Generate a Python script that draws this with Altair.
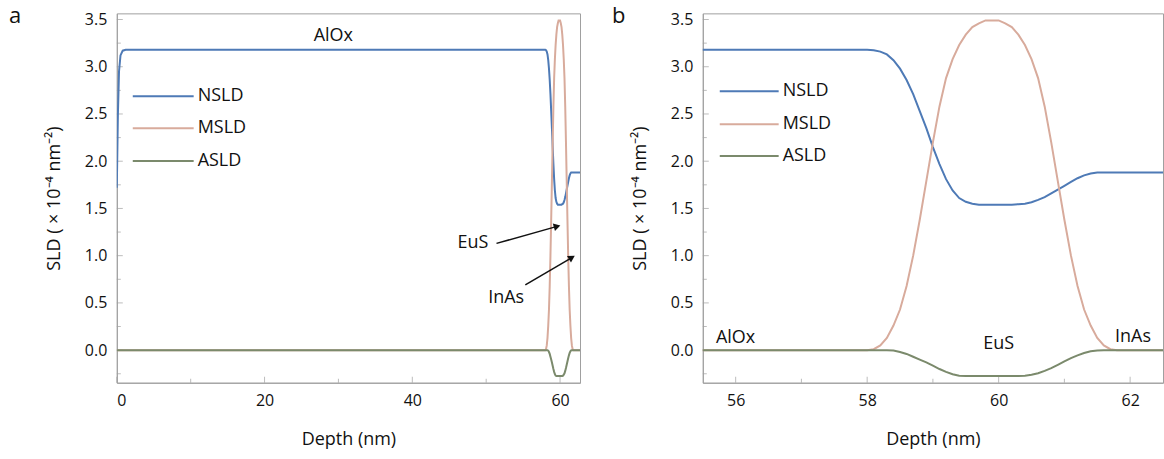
import altair as alt
import pandas as pd

# ---------------- data ----------------
depth = [0.0, 0.15, 0.3, 0.5, 0.8, 1.2, 57.5,
         58.0, 58.1, 58.2, 58.3, 58.4, 58.5, 58.6, 58.7, 58.8, 58.9,
         59.0, 59.1, 59.2, 59.3, 59.4, 59.5, 59.6, 59.7, 59.8, 59.9,
         60.0, 60.1, 60.2, 60.3, 60.4, 60.5, 60.6, 60.7, 60.8, 60.9,
         61.0, 61.1, 61.2, 61.3, 61.4, 61.5, 61.6, 61.7, 61.8, 61.9,
         62.0, 62.5, 63.0]

nsld = [1.72, 2.5, 2.95, 3.12, 3.17, 3.18, 3.18,
        3.18, 3.175, 3.16, 3.13, 3.07, 2.98, 2.86, 2.71, 2.53, 2.35,
        2.15, 1.97, 1.81, 1.69, 1.61, 1.57, 1.55, 1.54, 1.54, 1.54,
        1.54, 1.54, 1.54, 1.545, 1.55, 1.565, 1.59, 1.62, 1.66, 1.70,
        1.74, 1.78, 1.82, 1.85, 1.87, 1.88, 1.88, 1.88, 1.88, 1.88,
        1.88, 1.88, 1.88]

msld = [0.0, 0.0, 0.0, 0.0, 0.0, 0.0, 0.0,
        0.0, 0.01, 0.05, 0.13, 0.26, 0.43, 0.68, 1.0, 1.38, 1.79,
        2.2, 2.58, 2.88, 3.08, 3.23, 3.34, 3.42, 3.46, 3.49, 3.49,
        3.49, 3.46, 3.42, 3.34, 3.23, 3.08, 2.88, 2.58, 2.2, 1.79,
        1.38, 1.0, 0.68, 0.43, 0.26, 0.13, 0.05, 0.01, 0.0, 0.0,
        0.0, 0.0, 0.0]

asld = [0.0, 0.0, 0.0, 0.0, 0.0, 0.0, 0.0,
        0.0, 0.0, 0.0, 0.0, -0.005, -0.02, -0.04, -0.07, -0.10, -0.13,
        -0.165, -0.20, -0.23, -0.255, -0.27, -0.275, -0.275, -0.275, -0.275, -0.275,
        -0.275, -0.275, -0.275, -0.275, -0.27, -0.26, -0.245, -0.22, -0.19, -0.155,
        -0.12, -0.085, -0.055, -0.03, -0.012, -0.003, 0.0, 0.0, 0.0, 0.0,
        0.0, 0.0, 0.0]

series_names = ["NSLD", "MSLD", "ASLD"]
series_colors = ["#4e7ab6", "#d8ab9c", "#7b8a6c"]

y_major = [0.0, 0.5, 1.0, 1.5, 2.0, 2.5, 3.0, 3.5]
y_minor = [-0.25, 0.25, 0.75, 1.25, 1.75, 2.25, 2.75, 3.25]

a_x_major = [0, 20, 40, 60]
a_x_minor = [10, 30, 50]
b_x_major = [56, 58, 60, 62]
b_x_minor = [57, 59, 61]

# annotations (depth, sld, text)
a_labels = pd.DataFrame({"depth": [29.3, 48.2, 52.7], "sld": [3.32, 1.13, 0.55],
                         "label": ["AlOx", "EuS", "InAs"]})
a_arrows = pd.DataFrame({"depth": [51.4, 55.3], "sld": [1.13, 0.69],
                         "depth2": [59.6, 61.6], "sld2": [1.31, 0.98]})
a_heads = [344, 329]

b_labels_left = pd.DataFrame({"depth": [55.7, 61.77], "sld": [0.03, 0.04],
                              "label": ["AlOx", "InAs"]})
b_labels_center = pd.DataFrame({"depth": [60.0], "sld": [0.06], "label": ["EuS"]})

FONT = "Open Sans"
GREY = "#a0a0a0"
H = 370

rows = []
for n, vals in zip(series_names, [nsld, msld, asld]):
    for d, v in zip(depth, vals):
        rows.append({"depth": d, "sld": v, "series": n})
long_df = pd.DataFrame(rows)


def panel(xdom, width, xmajor, xminor, leg_x0, leg_x1, leg_tx, leg_ys,
          letter, letter_dx, extra_layers_fn):
    xenc = alt.X("depth:Q",
                 scale=alt.Scale(domain=xdom, nice=False, zero=False),
                 axis=alt.Axis(values=xmajor, format="d", title="Depth (nm)",
                               ticks=False, grid=False, labelPadding=10,
                               titlePadding=22))
    yenc = alt.Y("sld:Q",
                 scale=alt.Scale(domain=[-0.345, 3.565], nice=False, zero=False),
                 axis=alt.Axis(values=y_major, format=".1f",
                               title="SLD ( × 10⁻⁴ nm⁻²)",
                               ticks=False, grid=False, labelPadding=10,
                               titlePadding=21))
    layers = []
    # inward ticks
    layers.append(alt.Chart(pd.DataFrame({"depth": xmajor})).mark_tick(
        color=GREY, size=6, thickness=1).encode(x=xenc, y=alt.value(H - 3)))
    layers.append(alt.Chart(pd.DataFrame({"depth": xminor})).mark_tick(
        color=GREY, size=4, thickness=1).encode(x=xenc, y=alt.value(H - 2)))
    layers.append(alt.Chart(pd.DataFrame({"sld": y_major})).mark_tick(
        color=GREY, size=6, thickness=1).encode(y=yenc, x=alt.value(3)))
    layers.append(alt.Chart(pd.DataFrame({"sld": y_minor})).mark_tick(
        color=GREY, size=4, thickness=1).encode(y=yenc, x=alt.value(2)))
    # curves
    for n, c in zip(series_names, series_colors):
        layers.append(alt.Chart(long_df).transform_filter(
            alt.datum.series == n).mark_line(
            clip=True, color=c, strokeWidth=2).encode(x=xenc, y=yenc))
    # annotations
    layers += extra_layers_fn(xenc, yenc)
    # legend
    for n, c, ly in zip(series_names, series_colors, leg_ys):
        d = pd.DataFrame({"s": [n]})
        layers.append(alt.Chart(d).mark_rule(color=c, strokeWidth=2).encode(
            x=alt.value(leg_x0), x2=alt.value(leg_x1), y=alt.value(ly)))
        layers.append(alt.Chart(d).mark_text(
            align="left", baseline="middle", font=FONT, fontSize=18,
            color="#111").encode(x=alt.value(leg_tx), y=alt.value(ly),
                                 text="s:N"))
    # panel letter
    layers.append(alt.Chart(pd.DataFrame({"t": [letter]})).mark_text(
        align="left", baseline="alphabetic", font=FONT, fontSize=22,
        color="#111").encode(x=alt.value(letter_dx), y=alt.value(10),
                             text="t:N"))
    return alt.layer(*layers).properties(width=width, height=H)


def a_extra(xenc, yenc):
    out = [alt.Chart(a_labels).mark_text(
        font=FONT, fontSize=18, color="#111", align="center",
        baseline="middle").encode(x=xenc, y=yenc, text="label:N")]
    out.append(alt.Chart(a_arrows).mark_rule(color="#111", strokeWidth=1.5).encode(
        x=xenc, x2=alt.X2("depth2"), y=yenc, y2=alt.Y2("sld2")))
    for i, ang in enumerate(a_heads):
        tip = pd.DataFrame({"depth": [a_arrows["depth2"][i]],
                            "sld": [a_arrows["sld2"][i]]})
        out.append(alt.Chart(tip).mark_point(
            shape="triangle-right", filled=True, size=60, color="#111",
            angle=ang, opacity=1).encode(x=xenc, y=yenc))
    return out


def b_extra(xenc, yenc):
    return [
        alt.Chart(b_labels_left).mark_text(
            font=FONT, fontSize=18, color="#111", align="left",
            baseline="bottom").encode(x=xenc, y=yenc, text="label:N"),
        alt.Chart(b_labels_center).mark_text(
            font=FONT, fontSize=18, color="#111", align="center",
            baseline="middle").encode(x=xenc, y=yenc, text="label:N"),
    ]


left = panel([0, 62.7], 464, a_x_major, a_x_minor, 16, 77, 81,
             [83, 115, 148], "a", -108, a_extra)
right = panel([55.5, 62.5], 461, b_x_major, b_x_minor, 17, 76, 80,
              [78, 111, 143], "b", -91, b_extra)

chart = alt.hconcat(left, right, spacing=123, bounds="flush").properties(
    padding={"left": 8, "top": 4, "right": 0, "bottom": 0},
    background="white"
).configure_view(stroke=GREY, strokeWidth=1).configure_axis(
    domainColor=GREY, domainWidth=1, labelFont=FONT, labelFontSize=16,
    labelColor="#111", titleFont=FONT, titleFontSize=18, titleColor="#111",
    titleFontWeight="normal"
)

chart.save("out.html", embed_options={"renderer": "svg", "actions": False})
